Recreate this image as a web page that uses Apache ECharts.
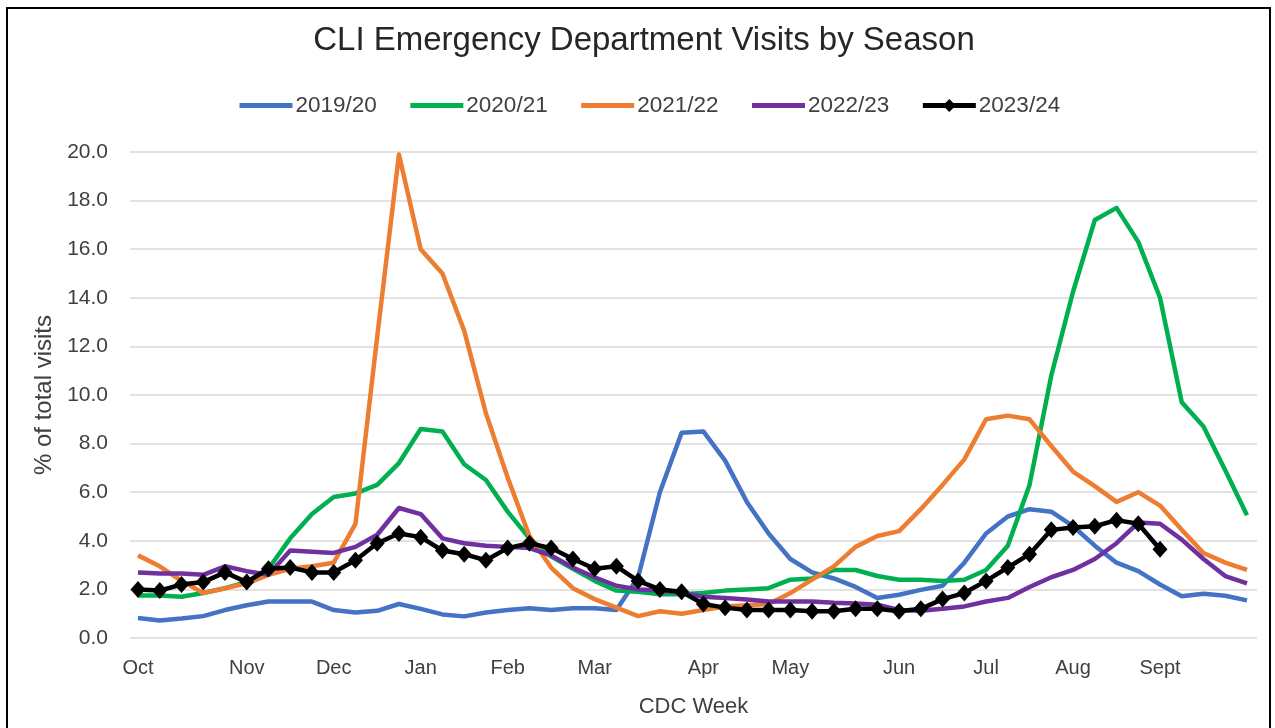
<!DOCTYPE html>
<html>
<head>
<meta charset="utf-8">
<script src="https://cdn.jsdelivr.net/npm/echarts@6/dist/echarts.min.js"></script>
<style>
html,body{margin:0;padding:0;background:#fff;}
#chart{width:1275px;height:728px;}
</style>
</head>
<body>
<div id="chart"></div>
<script>
// Month label positions (week index) and names
const monthWeeks = [0, 5, 9, 13, 17, 21, 26, 30, 35, 39, 43, 47];
const monthNames = ['Oct', 'Nov', 'Dec', 'Jan', 'Feb', 'Mar', 'Apr', 'May', 'Jun', 'Jul', 'Aug', 'Sept'];
const seasonNames = ['2019/20', '2020/21', '2021/22', '2022/23', '2023/24'];
const yTicks = [0, 2, 4, 6, 8, 10, 12, 14, 16, 18, 20];

const s1920 = [0.82,0.72,0.8,0.9,1.15,1.35,1.5,1.5,1.5,1.15,1.05,1.12,1.4,1.2,0.97,0.89,1.05,1.15,1.22,1.15,1.22,1.22,1.15,2.5,6.0,8.45,8.5,7.3,5.6,4.3,3.25,2.7,2.45,2.1,1.65,1.78,1.98,2.15,3.1,4.3,5.0,5.3,5.2,4.6,3.8,3.1,2.75,2.2,1.72,1.82,1.74,1.55];
const s2021 = [1.75,1.75,1.7,1.85,2.05,2.3,2.85,4.1,5.1,5.8,5.95,6.3,7.2,8.6,8.5,7.15,6.5,5.2,4.1,3.35,2.85,2.35,1.95,1.9,1.8,1.8,1.85,1.95,2.0,2.05,2.4,2.45,2.8,2.8,2.55,2.4,2.4,2.35,2.4,2.8,3.8,6.3,10.8,14.25,17.2,17.7,16.3,14.0,9.7,8.7,6.9,5.05];
const s2122 = [3.4,2.95,2.35,1.85,2.05,2.25,2.6,2.85,2.95,3.1,4.7,12.4,19.9,16.0,15.0,12.65,9.25,6.6,4.2,2.9,2.05,1.6,1.25,0.9,1.1,1.0,1.15,1.3,1.35,1.4,1.85,2.4,2.95,3.75,4.2,4.4,5.3,6.3,7.35,9.0,9.15,9.0,7.9,6.85,6.25,5.6,6.0,5.45,4.45,3.5,3.1,2.8];
const s2223 = [2.7,2.65,2.65,2.6,2.95,2.75,2.6,3.6,3.55,3.5,3.75,4.25,5.35,5.1,4.1,3.9,3.8,3.75,3.7,3.4,2.9,2.5,2.15,2.0,1.95,1.85,1.7,1.65,1.58,1.5,1.5,1.5,1.45,1.42,1.37,1.15,1.12,1.2,1.3,1.5,1.65,2.1,2.5,2.8,3.25,3.9,4.75,4.7,4.05,3.25,2.55,2.25];
const s2324 = [2.0,1.95,2.2,2.3,2.7,2.3,2.85,2.9,2.7,2.7,3.2,3.9,4.3,4.15,3.6,3.45,3.2,3.7,3.9,3.7,3.25,2.85,2.95,2.35,2.0,1.9,1.4,1.25,1.15,1.15,1.15,1.1,1.1,1.2,1.2,1.1,1.2,1.6,1.85,2.35,2.9,3.45,4.45,4.55,4.6,4.85,4.7,3.65];

const seriesValues = [s1920, s2021, s2122, s2223, s2324];
const colors = ['#4472C4', '#00B050', '#ED7D31', '#7030A0', '#000000'];

const FONT = 'Liberation Sans';
const toPairs = arr => arr.map((v, i) => [i, v]);

const series = seriesValues.map((vals, k) => {
  const isLast = k === 4;
  return {
    name: seasonNames[k],
    type: 'line',
    data: toPairs(vals),
    symbol: isLast ? 'diamond' : 'none',
    symbolSize: isLast ? [15, 17] : 0,
    showSymbol: isLast,
    lineStyle: { color: colors[k], width: 4.5, join: 'round' },
    itemStyle: { color: colors[k], borderWidth: 0 },
    z: 2 + k,
    animation: false
  };
});

const legendData = seasonNames.map((n, k) => k === 4
  ? { name: n }
  : { name: n, itemStyle: { opacity: 0 } });

const chart = echarts.init(document.getElementById('chart'), null, { renderer: 'canvas' });
chart.setOption({
  backgroundColor: '#ffffff',
  animation: false,
  title: {
    text: 'CLI Emergency Department Visits by Season',
    left: 639,
    textAlign: 'center',
    top: 19,
    textStyle: { fontFamily: FONT, fontSize: 33, fontWeight: 'normal', color: '#262626' }
  },
  legend: {
    top: 89,
    left: 232,
    itemWidth: 53,
    itemHeight: 16,
    itemGap: 31,
    data: legendData,
    lineStyle: { width: 5 },
    textStyle: { fontFamily: FONT, fontSize: 22.5, color: '#404040', padding: [0, 0, 0, -2] }
  },
  grid: { left: 130, right: 18, top: 152, bottom: 90, containLabel: false },
  xAxis: {
    type: 'value',
    min: -0.368,
    max: 51.46,
    name: 'CDC Week',
    nameLocation: 'middle',
    nameGap: 58,
    nameTextStyle: { fontFamily: FONT, fontSize: 22, color: '#404040' },
    axisLine: { show: false },
    axisTick: { show: false },
    splitLine: { show: false },
    axisLabel: {
      customValues: monthWeeks,
      formatter: v => monthNames[monthWeeks.indexOf(Math.round(v))] || '',
      fontFamily: FONT, fontSize: 20, color: '#404040', margin: 20
    }
  },
  yAxis: {
    type: 'value',
    min: 0,
    max: 20,
    interval: 2,
    name: '% of total visits',
    nameLocation: 'middle',
    nameGap: 72,
    nameTextStyle: { fontFamily: FONT, fontSize: 24, color: '#404040' },
    axisLine: { show: false },
    axisTick: { show: false },
    splitLine: { lineStyle: { color: '#d9d9d9', width: 1.5 } },
    axisLabel: {
      formatter: v => v.toFixed(1),
      fontFamily: FONT, fontSize: 21, color: '#404040', margin: 22
    }
  },
  graphic: [{
    type: 'rect',
    shape: { x: 7, y: 8, width: 1263, height: 760 },
    style: { fill: 'none', stroke: '#000', lineWidth: 2 },
    silent: true,
    z: 100
  }],
  series: series
});
</script>
</body>
</html>
